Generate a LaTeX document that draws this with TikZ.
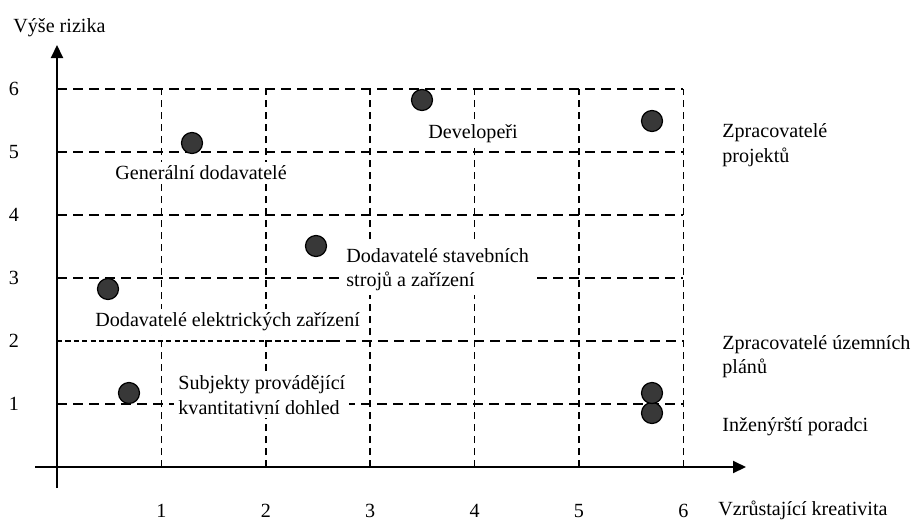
\documentclass[tikz,border=0pt]{standalone}
\usepackage{fontspec}
\setmainfont{Liberation Serif}
\usetikzlibrary{arrows.meta}

\begin{document}
\begin{tikzpicture}[x=0.5pt,y=-0.5pt,
  axisline/.style={line width=1pt,-{Triangle[length=6.5pt,width=6pt]}},
  hgrid/.style={line width=0.7pt,dash pattern=on 5pt off 3pt},
  hgridfine/.style={line width=0.7pt,dash pattern=on 2.6pt off 1.6pt},
  vgrid/.style={line width=0.75pt,dash pattern=on 3.5pt off 2.5pt},
  lbl/.style={font=\fontsize{10.05}{12.25}\selectfont,inner sep=1pt,anchor=west,align=left},
  boxlbl/.style={lbl,fill=white,inner sep=2pt},
  ticklbl/.style={font=\fontsize{10.05}{12.25}\selectfont,inner sep=0pt},
  dot/.style={circle,draw=black,line width=0.6pt,fill=black!78,minimum size=10.5pt,inner sep=0pt}]

\useasboundingbox (0,0) rectangle (920,520);

% axes end points
\coordinate (o) at (57,467);
\coordinate (ybot) at (57,488);
\coordinate (ytop) at (57,45);
\coordinate (xleft) at (35,467);
\coordinate (xright) at (746,467);

% horizontal grid lines at 1..6 (y pixel = 467 - 63*k)
\foreach \k in {1,3,4,5,6} {
  \draw[hgrid] (57,{467-63*\k}) -- (683,{467-63*\k});
}
\draw[hgridfine] (57,341) -- (330,341);
\draw[hgrid] (330,341) -- (683,341);

% vertical grid lines at 1..6 (x pixel = 57 + 104.4*k)
\foreach \k in {1,...,6} {
  \draw[vgrid] ({57+104.4*\k},467) -- ({57+104.4*\k},89);
}

% axes
\draw[axisline] (ybot) -- (ytop);
\draw[axisline] (xleft) -- (xright);

% axis titles
\node[lbl] (ytitle) at (11,28) {Výše rizika};
\node[lbl] (xtitle) at (716,510) {Vzrůstající kreativita};

% tick labels
\foreach \k in {1,...,6} {
  \node[ticklbl] (yt\k) at (14,{467-63*\k}) {\k};
}
\foreach \k in {1,...,6} {
  \node[ticklbl] (xt\k) at ({57+104.4*\k},511) {\k};
}

% group labels inside the grid
\node[boxlbl] (dev) at (424,134) {Developeři};
\node[boxlbl] (gen) at (111,173) {Generální dodavatelé};
\node[boxlbl] (stroj) at (342,269.5) {Dodavatelé stavebních\\strojů a zařízení};
\node[boxlbl] (elek) at (91,322) {Dodavatelé elektrických zařízení};
\node[boxlbl] (subj) at (174,395) {Subjekty provádějící\\kvantitativní dohled};

% group labels to the right
\node[lbl] (proj) at (720,145) {Zpracovatelé\\projektů};
\node[lbl] (uzem) at (720,356.5) {Zpracovatelé územních\\plánů};
\node[lbl] (inz) at (720,427) {Inženýrští poradci};

% positions
\node[dot] (p1) at (129,393) {};
\node[dot] (p2) at (108,289) {};
\node[dot] (p3) at (316,246) {};
\node[dot] (p4) at (192,143) {};
\node[dot] (p5) at (422,100) {};
\node[dot] (p6) at (652,121) {};
\node[dot] (p7) at (652,413) {};
\node[dot] (p8) at (652,393) {};

\end{tikzpicture}
\end{document}
